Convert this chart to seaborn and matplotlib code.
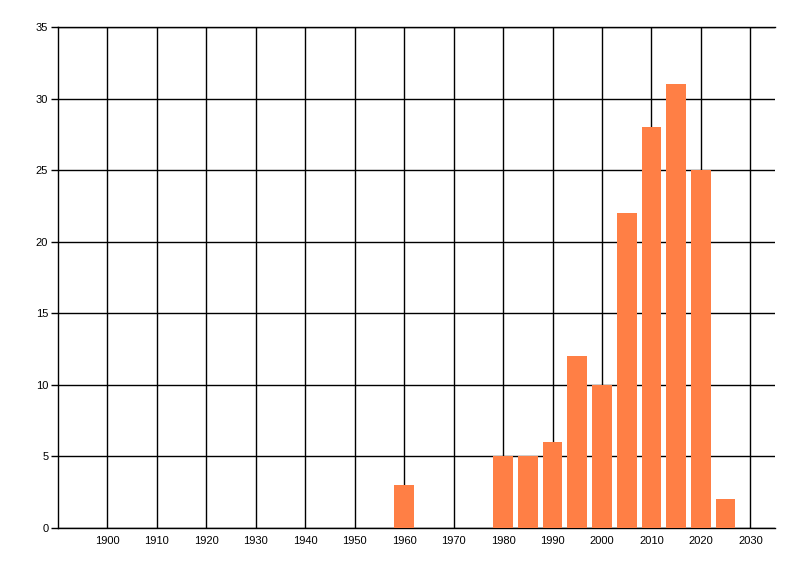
import matplotlib
matplotlib.use("Agg")
import matplotlib.pyplot as plt
import pandas as pd
import seaborn as sns

# Data
years = [1960, 1980, 1985, 1990, 1995, 2000, 2005, 2010, 2015, 2020, 2025]
counts = [3, 5, 5, 6, 12, 10, 22, 28, 31, 25, 2]
x_ticks = list(range(1900, 2031, 10))
y_ticks = list(range(0, 36, 5))

df = pd.DataFrame({'year': years, 'count': counts})

sns.set_style('white')
plt.rcParams['font.family'] = ['Liberation Sans', 'DejaVu Sans']

fig = plt.figure(figsize=(8, 5.76), dpi=100)
ax = fig.add_axes([0.0725, 0.0833, 0.8963, 0.8698])

sns.barplot(data=df, x='year', y='count', native_scale=True, width=0.8,
            color='#FF7F45', saturation=1, edgecolor='none', ax=ax, zorder=3)

ax.set_xlim(1890, 2035)
ax.set_ylim(0, 35)
ax.set_xticks(x_ticks)
ax.set_yticks(y_ticks)
ax.grid(True, color='black', linewidth=1, zorder=0)
ax.set_axisbelow(True)

ax.spines['right'].set_visible(False)
for side in ['left', 'bottom', 'top']:
    ax.spines[side].set_color('black')
    ax.spines[side].set_linewidth(1)

ax.tick_params(axis='x', length=0, pad=6, labelsize=8, labelcolor='black')
ax.tick_params(axis='y', length=5, width=1, color='black', pad=2, labelsize=8,
               left=True, labelcolor='black')
ax.set_xlabel('')
ax.set_ylabel('')

fig.savefig('out.png', dpi=100)
